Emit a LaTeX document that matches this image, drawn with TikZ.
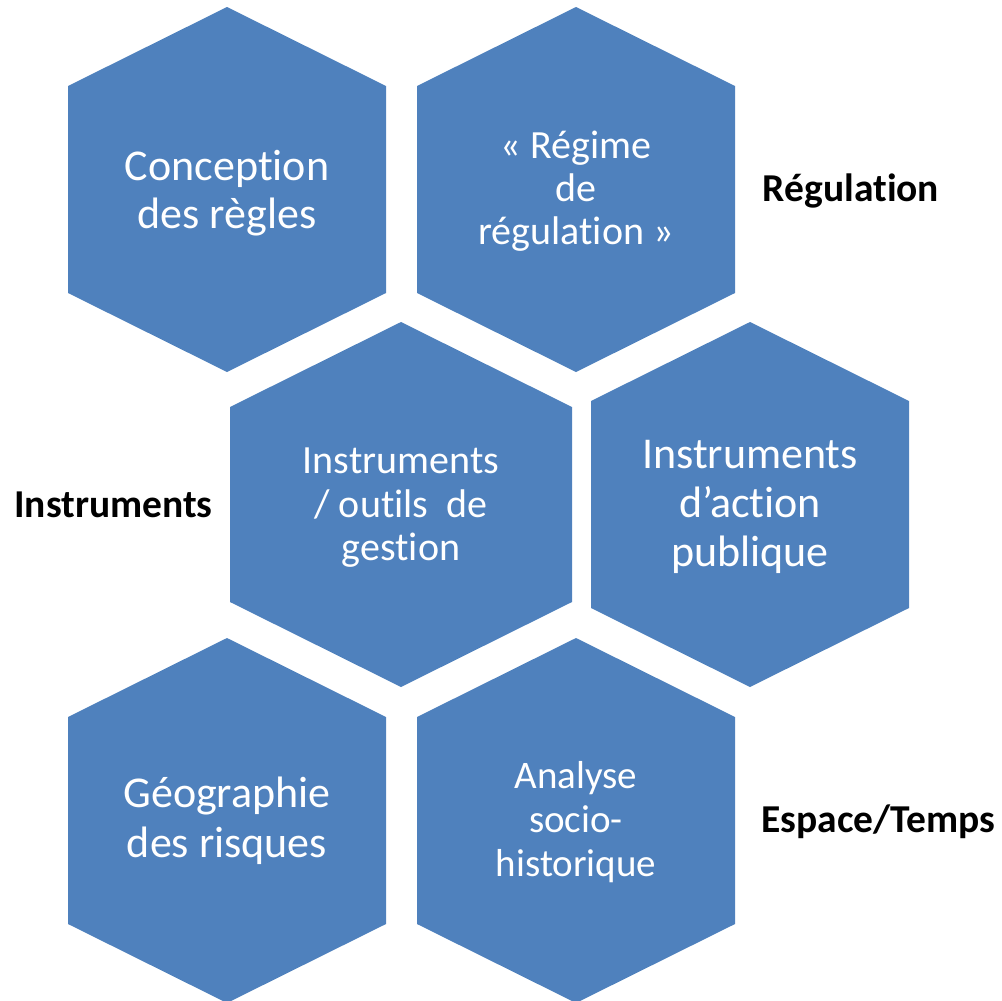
\documentclass[tikz,border=0pt]{standalone}
\usepackage{fontspec}
\setmainfont{Carlito}[RawFeature={-liga;-clig;-calt;-dlig;-rlig}]
\usepackage{tikz}
\usetikzlibrary{positioning}
\definecolor{hexblue}{HTML}{4F81BD}

\begin{document}
\begin{tikzpicture}[x=1pt,y=-1pt,
hexfill/.style={fill=hexblue,draw=none},
hextext/.style={text=white,align=center,inner sep=0pt,anchor=center},
sidelabel/.style={text=black,inner sep=0pt,anchor=base,font=\bfseries\fontsize{39.5}{44}\selectfont}]
\useasboundingbox (0,0) rectangle (1002,1001);
% hexagons: name / centre x / centre y / half width / corner offset
\foreach \nm/\cx/\cy/\hw/\cd in {h1/227/189.5/159/103.5, h2/576/189.5/159/103.5,
  h3/401/504.5/171/97.5, h4/750/504.5/159/103.5,
  h5/227/820.5/159/103.5, h6/576/820.5/159/103.5}
{
\fill[hexfill] (\cx-\hw,\cy-\cd) -- (\cx,\cy-182.5) -- (\cx+\hw,\cy-\cd)
  -- (\cx+\hw,\cy+\cd) -- (\cx,\cy+182.5) -- (\cx-\hw,\cy+\cd) -- cycle;
\coordinate (\nm) at (\cx,\cy);
}
\node[hextext,font=\fontsize{44}{48}\selectfont,yshift=-3.5pt] (regles) at (h1) {Conception\\des règles};
\node[hextext,font=\fontsize{40}{43}\selectfont,yshift=-2pt] (regime) at (h2) {« Régime\\de\\régulation »};
\node[hextext,font=\fontsize{40}{43.5}\selectfont,yshift=-3.5pt] (outils) at (h3) {Instruments\\/ outils~ de\\gestion};
\node[hextext,font=\fontsize{44}{49}\selectfont,yshift=-2.5pt] (action) at (h4) {Instruments\\d’action\\publique};
\node[hextext,font=\fontsize{44}{49.5}\selectfont,yshift=-0.5pt] (geo) at (h5) {Géographie\\des risques};
\node[hextext,font=\fontsize{39}{44}\selectfont,yshift=-2pt] (socio) at (h6) {Analyse\\socio-\\historique};
\node[sidelabel] (regulation) at (851,201) {Régulation};
\node[sidelabel] (instruments) at (113.5,517) {Instruments};
\node[sidelabel] (espace) at (878.5,832) {Espace/Temps};
\end{tikzpicture}
\end{document}
